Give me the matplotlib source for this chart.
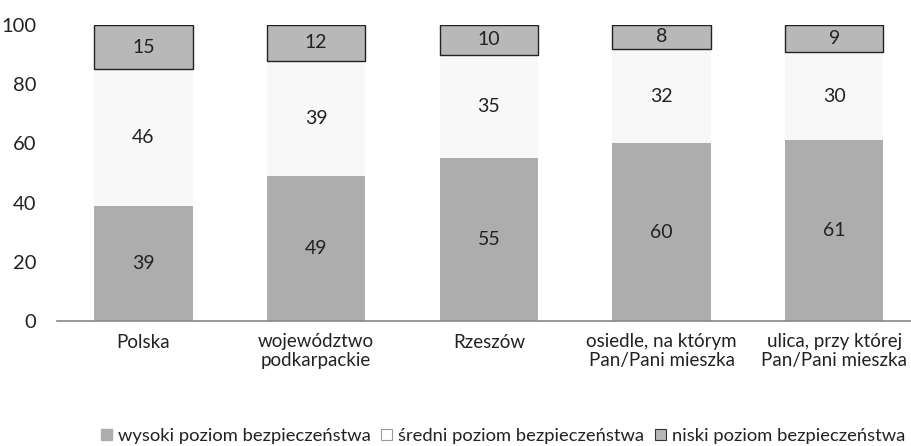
import matplotlib
matplotlib.use("Agg")
import matplotlib.pyplot as plt
from matplotlib.patches import Patch

plt.rcParams['font.family'] = ['Lato', 'DejaVu Sans']

# data
categories = ["Polska", "województwo\npodkarpackie", "Rzeszów",
              "osiedle, na którym\nPan/Pani mieszka", "ulica, przy której\nPan/Pani mieszka"]
wysoki = [39, 49, 55, 60, 61]
sredni = [46, 39, 35, 32, 30]
niski = [15, 12, 10, 8, 9]
series_names = ["wysoki poziom bezpieczeństwa", "średni poziom bezpieczeństwa",
                "niski poziom bezpieczeństwa"]

fig = plt.figure(figsize=(9.12, 4.46), dpi=100)
ax = fig.add_axes([57 / 912, 1 - 321 / 446, 1 - 57 / 912, 296 / 446])

x = range(len(categories))
w = 0.57
ax.bar(x, wysoki, w, color="#adadad", edgecolor="none")
ax.bar(x, sredni, w, bottom=wysoki, color="#f8f8f8", edgecolor="none")
top_bottom = [a + b for a, b in zip(wysoki, sredni)]
ax.bar(x, niski, w, bottom=top_bottom, color="#b8b8b8", edgecolor="#222222", linewidth=1.0)

# value labels in the middle of each segment
for i in x:
    ax.text(i, wysoki[i] / 2, str(wysoki[i]), ha="center", va="center", fontsize=14, color="#222222")
    ax.text(i, wysoki[i] + sredni[i] / 2, str(sredni[i]), ha="center", va="center", fontsize=14, color="#222222")
    ax.text(i, top_bottom[i] + niski[i] / 2, str(niski[i]), ha="center", va="center", fontsize=14, color="#222222")

ax.set_ylim(0, 100)
ax.set_xlim(-0.5, 4.45)
ax.set_yticks(range(0, 101, 20))
ax.tick_params(axis="y", length=0, pad=15, labelsize=14.5, labelcolor="#222222")
ax.tick_params(axis="x", length=0, pad=9, labelsize=13.5, labelcolor="#222222")
ax.set_xticks(list(x))
ax.set_xticklabels(categories, linespacing=1.1)
for s in ["top", "right", "left"]:
    ax.spines[s].set_visible(False)
ax.spines["bottom"].set_color("#888888")
ax.spines["bottom"].set_linewidth(1.2)

handles = [Patch(facecolor="#adadad", edgecolor="#adadad"),
           Patch(facecolor="#ffffff", edgecolor="#999999", linewidth=0.8),
           Patch(facecolor="#b8b8b8", edgecolor="#333333", linewidth=0.8)]
fig.legend(handles, series_names, loc="center", bbox_to_anchor=(503 / 912, 1 - 436 / 446),
           ncol=3, frameon=False, fontsize=13.2, handlelength=0.6, handleheight=0.6,
           handletextpad=0.3, columnspacing=0.6, labelcolor="#222222", borderpad=0)

fig.savefig("out.png", dpi=100)
